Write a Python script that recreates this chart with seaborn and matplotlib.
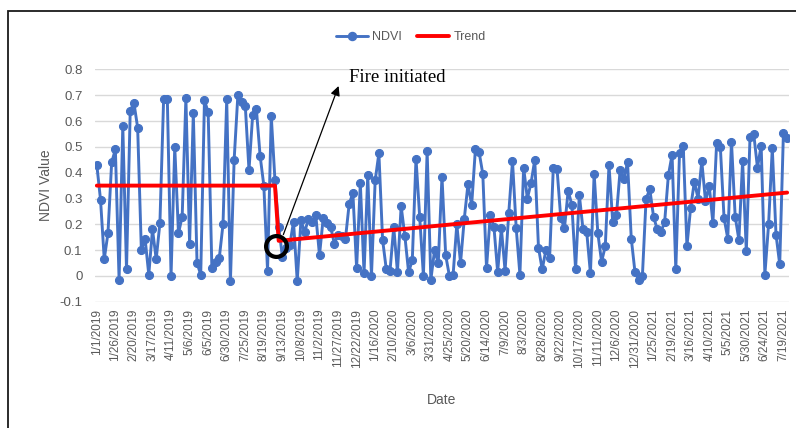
import pandas as pd
import seaborn as sns
import matplotlib.pyplot as plt
from matplotlib.patches import Rectangle
from matplotlib.lines import Line2D

# NDVI values, one every ~5 days (Excel category axis)
ndvi_before_fire = [0.43, 0.295, 0.065, 0.165, 0.44, 0.49, -0.015, 0.58, 0.025, 0.64,
                    0.67, 0.575, 0.10, 0.145, 0.005, 0.18, 0.065, 0.205, 0.685, 0.685,
                    0.0, 0.50, 0.165, 0.23, 0.69, 0.125, 0.63, 0.05, 0.005, 0.68,
                    0.635, 0.03, 0.055, 0.07, 0.20, 0.685, -0.02, 0.45, 0.70, 0.675,
                    0.66, 0.41, 0.625, 0.645, 0.465, 0.35, 0.02, 0.62, 0.37]
ndvi_after_fire_a = [0.19, 0.075, 0.11, 0.12, 0.21, -0.02, 0.215, 0.17, 0.22, 0.21,
                     0.235, 0.08, 0.225, 0.205, 0.19, 0.125, 0.16, 0.155, 0.145, 0.28,
                     0.32, 0.03, 0.36, 0.01, 0.39, 0.0, 0.37, 0.475, 0.14, 0.025,
                     0.02, 0.19, 0.015, 0.27, 0.155, 0.015, 0.06, 0.455, 0.23, 0.0,
                     0.485, -0.015, 0.10, 0.05, 0.385, 0.08, 0.0, 0.005, 0.2, 0.05,
                     0.22, 0.355, 0.275, 0.49, 0.48, 0.395, 0.03, 0.235, 0.19, 0.015,
                     0.185, 0.02, 0.245]
ndvi_after_fire_b = [0.445, 0.185, 0.005, 0.42, 0.30, 0.36, 0.45, 0.11, 0.025, 0.10,
                     0.07, 0.42, 0.415, 0.225, 0.185, 0.33, 0.275, 0.025, 0.315, 0.18,
                     0.17, 0.01, 0.395, 0.165, 0.055, 0.115, 0.43, 0.21, 0.235, 0.41,
                     0.375, 0.44, 0.145, 0.015, -0.015, 0.0, 0.30, 0.335, 0.23, 0.18,
                     0.17, 0.21, 0.39, 0.47, 0.025, 0.475, 0.505, 0.115, 0.265, 0.365,
                     0.30, 0.445, 0.29, 0.35, 0.205, 0.515, 0.50, 0.225, 0.145, 0.52,
                     0.23, 0.14, 0.445, 0.095, 0.54, 0.55, 0.42, 0.505, 0.005, 0.20,
                     0.495, 0.16, 0.045, 0.555, 0.535]

# every 5th category gets a label
tick_labels = ["1/1/2019", "1/26/2019", "2/20/2019", "3/17/2019", "4/11/2019", "5/6/2019",
               "6/5/2019", "6/30/2019", "7/25/2019", "8/19/2019", "9/13/2019", "10/8/2019",
               "11/2/2019", "11/27/2019", "12/22/2019", "1/16/2020", "2/10/2020", "3/6/2020",
               "3/31/2020", "4/25/2020", "5/20/2020", "6/14/2020", "7/9/2020", "8/3/2020",
               "8/28/2020", "9/22/2020", "10/17/2020", "11/11/2020", "12/6/2020", "12/31/2020",
               "1/25/2021", "2/19/2021", "3/16/2021", "4/10/2021", "5/5/2021", "5/30/2021",
               "6/24/2021", "7/19/2021"]

# trend: flat mean before the fire, linear rise after it
trend_before = 0.35
trend_after_start = 0.136
trend_after_end = 0.323

y_ticks = [-0.1, 0, 0.1, 0.2, 0.3, 0.4, 0.5, 0.6, 0.7, 0.8]
y_tick_labels = ["-0.1", "0", "0.1", "0.2", "0.3", "0.4", "0.5", "0.6", "0.7", "0.8"]

ndvi = ndvi_before_fire + ndvi_after_fire_a + ndvi_after_fire_b
df = pd.DataFrame({"idx": range(len(ndvi)), "NDVI": ndvi})
last_pre = len(ndvi_before_fire) - 1
trend_df = pd.DataFrame({"idx": [0, last_pre, last_pre + 1, len(ndvi) - 1],
                         "Trend": [trend_before, trend_before, trend_after_start, trend_after_end]})

sns.set_style("white")
plt.rcParams["font.family"] = ["Liberation Sans", "DejaVu Sans"]

blue = "#4472C4"
red = "#FF0000"
grey = "#595959"

fig = plt.figure(figsize=(7.96, 4.28), dpi=100)
ax = fig.add_axes([0.1193, 0.295, 0.8719, 0.5427])

sns.lineplot(data=df, x="idx", y="NDVI", ax=ax, color=blue, linewidth=2.1,
             marker="o", markersize=5.8, markeredgecolor=blue, zorder=3)
sns.lineplot(data=trend_df, x="idx", y="Trend", ax=ax, color=red, linewidth=2.8, zorder=4)

ax.set_xlim(-0.5, len(ndvi) - 0.5)
ax.set_ylim(-0.1, 0.8)
ax.set_yticks(y_ticks)
ax.set_yticklabels(y_tick_labels, fontsize=9.5, color=grey)
ax.set_xticks(range(0, len(tick_labels) * 5, 5))
ax.set_xticklabels(tick_labels, rotation=90, fontsize=8.5, color=grey)
ax.tick_params(axis="both", length=0)
ax.tick_params(axis="x", pad=5)
ax.tick_params(axis="y", pad=9)
ax.grid(axis="y", color="#d9d9d9", linewidth=1)
ax.set_axisbelow(True)
for s in ax.spines.values():
    s.set_visible(False)

ax.set_xlabel("Date", fontsize=10, color=grey)
ax.xaxis.set_label_coords(0.5, -0.395)
ax.set_ylabel("NDVI Value", fontsize=10, color=grey)
ax.yaxis.set_label_coords(-0.06, 0.5)

# fire annotation
ax.plot([last_pre + 0.4], [0.115], marker="o", markersize=15, markerfacecolor="none",
        markeredgecolor="black", markeredgewidth=3, zorder=5)
ax.annotate("", xy=(65.4, 0.746), xytext=(50.0, 0.15),
            arrowprops=dict(arrowstyle="-|>", color="black", lw=0.9, mutation_scale=14),
            annotation_clip=False)
ax.text(68.0, 0.768, "Fire initiated", fontsize=13.5, family="Liberation Serif",
        color="black", va="center", ha="left", clip_on=False)

handles = [Line2D([], [], color=blue, lw=2.1, marker="o", markersize=5.8),
           Line2D([], [], color=red, lw=2.8)]
fig.legend(handles, ["NDVI", "Trend"], loc="center", bbox_to_anchor=(0.516, 0.9136),
           ncol=2, frameon=False, fontsize=9, labelcolor=grey, handlelength=2.6,
           handletextpad=0.3, columnspacing=1.2)

fig.add_artist(Rectangle((8 / 796, -0.1), 1.2, 0.9743 + 0.1, transform=fig.transFigure,
                         fill=False, edgecolor="#1a1a1a", linewidth=1.3))

fig.savefig("out.png", dpi=100)
